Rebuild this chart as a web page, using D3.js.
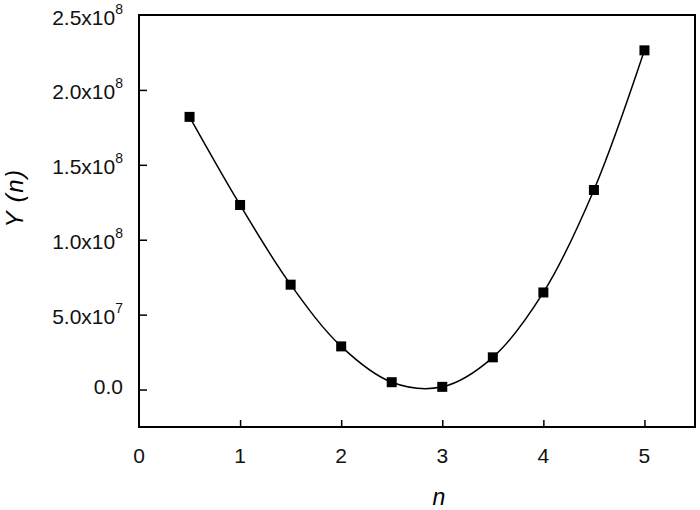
<!DOCTYPE html>
<html>
<head>
<meta charset="utf-8">
<script src="https://cdn.jsdelivr.net/npm/d3@7"></script>
<style>
  body { margin: 0; background: #fff; }
  svg { display: block; font-family: "Liberation Sans", Arial, sans-serif; }
  .axis path, .axis line { stroke: #000; }
</style>
</head>
<body>
<div id="chart"></div>
<script>
// data
const nValues = [0.5, 1.0, 1.5, 2.0, 2.5, 3.0, 3.5, 4.0, 4.5, 5.0];
const yValues = [1.82e8, 1.232e8, 7.0e7, 2.88e7, 4.9e6, 1.8e6, 2.15e7, 6.48e7, 1.332e8, 2.264e8];
const xTicks = [0, 1, 2, 3, 4, 5];
const yTicks = [0, 5e7, 1e8, 1.5e8, 2e8, 2.5e8];
const yTickLabels = [['0.0', ''], ['5.0x10', '7'], ['1.0x10', '8'], ['1.5x10', '8'], ['2.0x10', '8'], ['2.5x10', '8']];

const width = 700, height = 510;
const margin = { left: 139, right: 5, top: 15, bottom: 83 };

const svg = d3.select('#chart').append('svg')
    .attr('width', width)
    .attr('height', height);

const x = d3.scaleLinear()
    .domain([0, 5.5])
    .range([margin.left, width - margin.right]);

const y = d3.scaleLinear()
    .domain([-2.5e7, 2.5e8])
    .range([height - margin.bottom, margin.top]);

// frame
svg.append('rect')
    .attr('x', x(0))
    .attr('y', y(2.5e8))
    .attr('width', x(5.5) - x(0))
    .attr('height', y(-2.5e7) - y(2.5e8))
    .attr('fill', 'none')
    .attr('stroke', '#000')
    .attr('stroke-width', 2);

// x axis, ticks pointing in
const xAxis = svg.append('g')
    .attr('class', 'axis')
    .attr('transform', 'translate(0,' + y(-2.5e7) + ')')
    .call(d3.axisBottom(x).tickValues(xTicks.slice(1)).tickSize(-7).tickFormat(''));
xAxis.select('.domain').remove();
xAxis.selectAll('line').attr('stroke-width', 1.5);

svg.append('g')
    .selectAll('text')
    .data(xTicks)
    .join('text')
    .attr('x', d => x(d))
    .attr('y', y(-2.5e7) + 36)
    .attr('text-anchor', 'middle')
    .attr('font-size', 21)
    .attr('fill', '#111')
    .text(d => d);

// y axis, ticks pointing in
const yAxis = svg.append('g')
    .attr('class', 'axis')
    .attr('transform', 'translate(' + x(0) + ',0)')
    .call(d3.axisLeft(y).tickValues(yTicks.slice(0, -1)).tickSize(-8).tickFormat(''));
yAxis.select('.domain').remove();
yAxis.selectAll('line').attr('stroke-width', 1.5);

const yLab = svg.append('g')
    .selectAll('text')
    .data(yTicks)
    .join('text')
    .attr('x', x(0) - 16)
    .attr('y', (d, i) => y(d) + (yTickLabels[i][1] ? 9.5 : 4.5))
    .attr('text-anchor', 'end')
    .attr('font-size', 21)
    .attr('fill', '#111');
yLab.append('tspan')
    .text((d, i) => yTickLabels[i][0]);
yLab.append('tspan')
    .attr('dy', -11)
    .attr('font-size', 14)
    .text((d, i) => yTickLabels[i][1]);

// fitted curve
const line = d3.line()
    .x((d, i) => x(nValues[i]))
    .y(d => y(d))
    .curve(d3.curveCatmullRom.alpha(0.5));

svg.append('path')
    .datum(yValues)
    .attr('d', line)
    .attr('fill', 'none')
    .attr('stroke', '#000')
    .attr('stroke-width', 1.5);

// markers
const size = 10;
svg.append('g')
    .selectAll('rect')
    .data(yValues)
    .join('rect')
    .attr('x', (d, i) => x(nValues[i]) - size / 2)
    .attr('y', d => y(d) - size / 2)
    .attr('width', size)
    .attr('height', size)
    .attr('fill', '#000');

// axis titles
svg.append('text')
    .attr('x', 439)
    .attr('y', 505)
    .attr('text-anchor', 'middle')
    .attr('font-size', 23)
    .attr('font-style', 'italic')
    .text('n');

svg.append('text')
    .attr('transform', 'translate(23,198) rotate(-90)')
    .attr('text-anchor', 'middle')
    .attr('font-size', 24)
    .attr('font-style', 'italic')
    .attr('letter-spacing', 1.5)
    .text('Y (n)');
</script>
</body>
</html>
